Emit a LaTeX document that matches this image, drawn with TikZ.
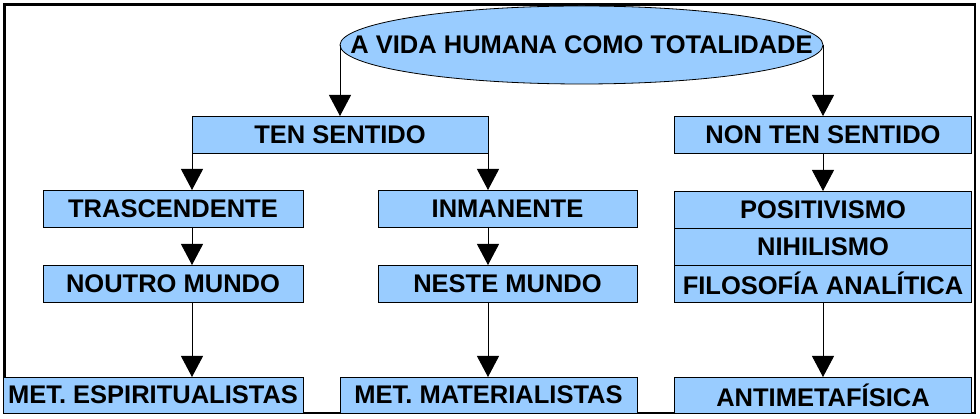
\documentclass[tikz,border=0pt]{standalone}
\usepackage{fontspec}
\setmainfont{Liberation Sans}
\usetikzlibrary{arrows.meta,shapes.geometric}
\definecolor{celeste}{HTML}{99CCFF}

\begin{document}
\begin{tikzpicture}[x=1pt,y=-1pt,
   texto/.style={font=\fontsize{25.5}{30}\selectfont\bfseries},
   caixa/.style={texto,draw,fill=celeste,line width=0.8pt,inner sep=0pt,outer sep=0pt,
      minimum width=297pt,minimum height=37pt},
   frecha/.style={-{Triangle[width=22pt,length=21pt]},line width=0.9pt}]
\useasboundingbox (0,0) rectangle (980,419);
% marco
   \draw[line width=2.2pt] (4.5,4.5) rectangle (975,413);
% elipse
   \node[draw,ellipse,fill=celeste,line width=0.8pt,inner sep=0pt,outer sep=0pt,
      minimum width=483pt,minimum height=78pt,
      label={[texto]center:A VIDA HUMANA COMO TOTALIDADE}] (vida) at (581.5,45) {};
% caixas
   \node[caixa,minimum width=296pt] (ten) at (340,134.5) {TEN SENTIDO};
   \node[caixa] (non) at (823,134.5) {NON TEN SENTIDO};
   \node[caixa,minimum width=260pt] (tras) at (173,208.5) {TRASCENDENTE};
   \node[caixa,minimum width=259pt] (inma) at (507.5,208.5) {INMANENTE};
   \node[caixa,minimum width=260pt] (noutro) at (173,283.5) {NOUTRO MUNDO};
   \node[caixa,minimum width=259pt] (neste) at (507.5,283.5) {NESTE MUNDO};
   \node[caixa,minimum width=300pt,minimum height=36pt] (espi) at (153,395) {MET. ESPIRITUALISTAS};
   \node[caixa,minimum height=36pt] (mate) at (488.5,395) {MET. MATERIALISTAS};
   \node[caixa] (posi) at (823,209.5) {POSITIVISMO};
   \node[caixa] (nihi) at (823,246.5) {NIHILISMO};
   \node[caixa] (filo) at (823,283.5) {FILOSOFÍA ANALÍTICA};
   \node[caixa,minimum height=36pt] (anti) at (823,395) {ANTIMETAFÍSICA};
% frechas
   \draw[frecha] (vida.west) -- (ten.north);
   \draw[frecha] (vida.east) -- (non.north);
   \draw[frecha] (ten.south west) -- (ten.south west |- tras.north);
   \draw[frecha] (ten.south east) -- (ten.south east |- inma.north);
   \draw[frecha] (tras.south -| ten.south west) -- (noutro.north -| ten.south west);
   \draw[frecha] (noutro.south -| ten.south west) -- (espi.north -| ten.south west);
   \draw[frecha] (inma.south -| ten.south east) -- (neste.north -| ten.south east);
   \draw[frecha] (neste.south -| ten.south east) -- (mate.north -| ten.south east);
   \draw[frecha] (non.south) -- (posi.north);
   \draw[frecha] (filo.south) -- (anti.north);
\end{tikzpicture}
\end{document}
